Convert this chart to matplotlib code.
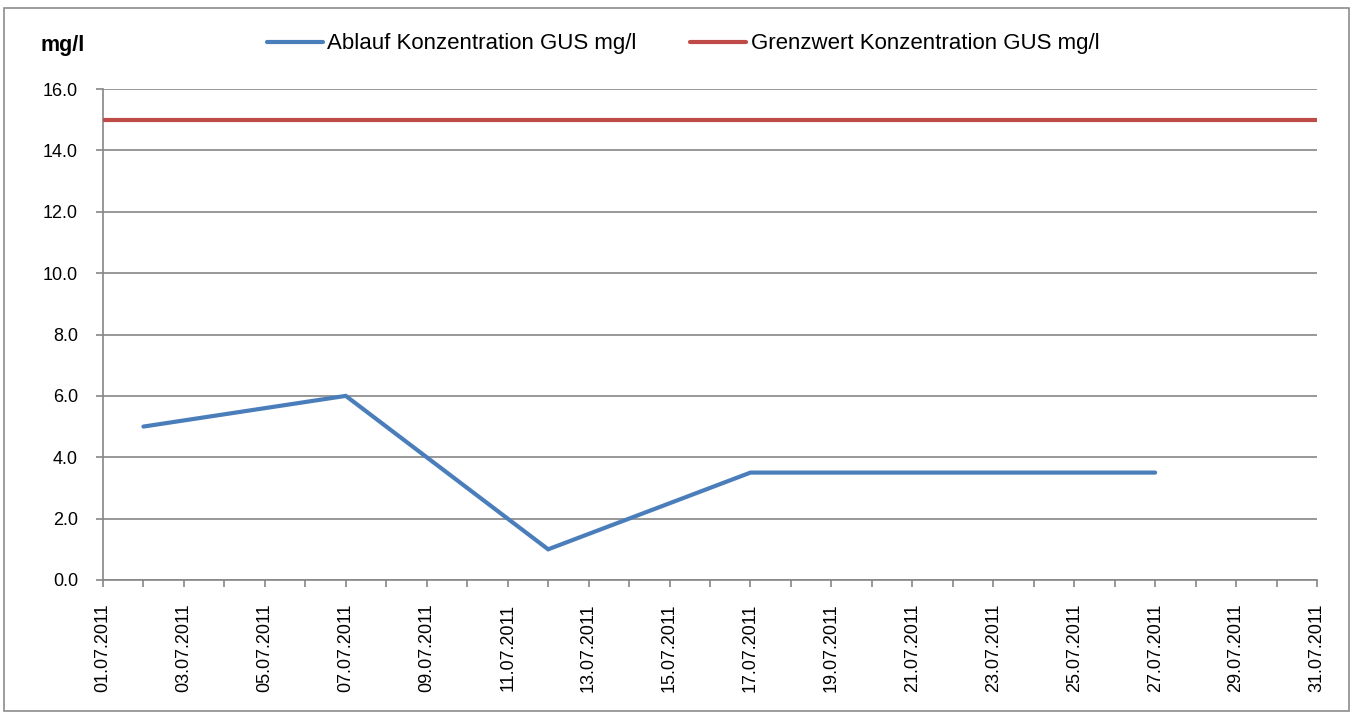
import datetime as dt
import matplotlib
matplotlib.use("Agg")
import matplotlib.pyplot as plt
import matplotlib.dates as mdates
import matplotlib.ticker as mticker
from matplotlib.lines import Line2D
from matplotlib.patches import Rectangle

# ── data ──────────────────────────────────────────────────────────────────────
ABLAUF_DATES = ["02.07.2011", "07.07.2011", "12.07.2011", "17.07.2011",
                "22.07.2011", "27.07.2011"]
ABLAUF_VALUES = [5.0, 6.0, 1.0, 3.5, 3.5, 3.5]
GRENZ_DATES = ["01.07.2011", "31.07.2011"]
GRENZ_VALUES = [15.0, 15.0]

LABEL_ABLAUF = "Ablauf Konzentration GUS mg/l"
LABEL_GRENZ = "Grenzwert Konzentration GUS mg/l"
UNIT = "mg/l"

BLUE = "#4A7EBB"
RED = "#BE4B48"
GRID = "#868686"

def to_dates(lst):
    return [dt.datetime.strptime(s, "%d.%m.%Y") for s in lst]

plt.rcParams["font.family"] = ["Liberation Sans", "DejaVu Sans"]
plt.rcParams["font.size"] = 13

W, H = 1357, 717
fig = plt.figure(figsize=(W / 100, H / 100), dpi=100)
ax = fig.add_axes([103 / W, 1 - 580 / H, (1317 - 103) / W, (580 - 89) / H])

ax.plot(to_dates(ABLAUF_DATES), ABLAUF_VALUES, color=BLUE, lw=3,
        solid_capstyle="round", solid_joinstyle="miter", zorder=3)
ax.plot(to_dates(GRENZ_DATES), GRENZ_VALUES, color=RED, lw=3,
        solid_capstyle="round", zorder=3)

ax.set_xlim(dt.datetime(2011, 7, 1), dt.datetime(2011, 7, 31))
ax.set_ylim(0, 16)
ax.yaxis.set_major_locator(mticker.MultipleLocator(2))
ax.yaxis.set_major_formatter(mticker.FormatStrFormatter("%.1f"))
ax.xaxis.set_major_locator(mdates.DayLocator(interval=2))
ax.xaxis.set_minor_locator(mdates.DayLocator())
ax.xaxis.set_major_formatter(mdates.DateFormatter("%d.%m.%Y"))
plt.setp(ax.get_xticklabels(), rotation=90, ha="center")

ax.grid(axis="y", color=GRID, lw=1.2, zorder=0)
for side in ["top", "right"]:
    ax.spines[side].set_visible(False)
for side in ["left", "bottom"]:
    ax.spines[side].set_color(GRID)
    ax.spines[side].set_linewidth(1.2)
ax.tick_params(axis="both", which="both", color=GRID, width=1.2, length=5,
               direction="out", labelcolor="black", labelsize=13)
ax.tick_params(axis="x", pad=12)
ax.tick_params(axis="y", pad=13)

fig.text(40 / W, 1 - 46 / H, UNIT, fontsize=15.5, fontweight="bold",
         ha="left", va="center")

handles = [Line2D([0], [0], color=BLUE, lw=3, solid_capstyle="round"),
           Line2D([0], [0], color=RED, lw=3, solid_capstyle="round")]
fig.legend(handles, [LABEL_ABLAUF, LABEL_GRENZ], loc="center left",
           bbox_to_anchor=(267 / W, 1 - 44 / H), ncol=2, frameon=False,
           handlelength=2.5, handletextpad=0.22, columnspacing=2.4,
           borderpad=0, borderaxespad=0, fontsize=16)

fig.patches.append(Rectangle((4 / W, 1 - 711 / H), 1345 / W, 703 / H,
                             transform=fig.transFigure, fill=False,
                             edgecolor="#8c8c8c", lw=1.2))

fig.savefig("out.png", dpi=100, facecolor="white")
